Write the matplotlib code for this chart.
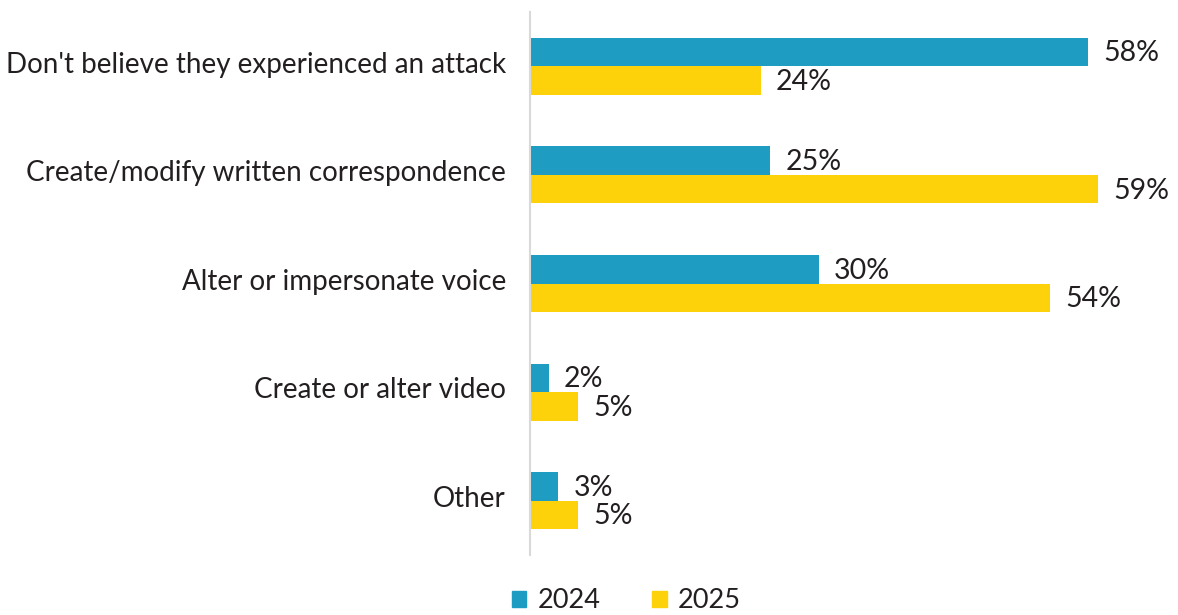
import matplotlib.pyplot as plt
import matplotlib.transforms as mtransforms
from matplotlib.patches import Patch

categories = ["Don't believe they experienced an attack",
              "Create/modify written correspondence",
              "Alter or impersonate voice",
              "Create or alter video",
              "Other"]
values_2024 = [58, 25, 30, 2, 3]
values_2025 = [24, 59, 54, 5, 5]
series_names = ["2024", "2025"]

blue = '#1e9cc1'
yellow = '#fdd20a'
text_col = '#231f20'

plt.rcParams['font.family'] = ['Lato', 'DejaVu Sans']

fig = plt.figure(figsize=(11.78, 6.15), dpi=100)
ax = fig.add_axes([529.5 / 1178, 1 - 555 / 615, 1 - 529.5 / 1178, (555 - 12) / 615])

h = 0.262
pos = list(range(len(categories)))
# two bars per category, 2024 above 2025
ax.barh([p - h / 2 for p in pos], values_2024, height=h, color=blue)
ax.barh([p + h / 2 for p in pos], values_2025, height=h, color=yellow)

for p, v in zip(pos, values_2024):
    ax.annotate(f'{v}%', (v, p - h / 2), xytext=(11, -1), textcoords='offset points',
                va='center', ha='left', fontsize=20.5, color=text_col)
for p, v in zip(pos, values_2025):
    ax.annotate(f'{v}%', (v, p + h / 2), xytext=(11, -1), textcoords='offset points',
                va='center', ha='left', fontsize=20.5, color=text_col)

ax.set_xlim(0, (1178 - 529.5) / 9.635)
ax.set_ylim(4.5, -0.5)
ax.set_yticks(pos)
ax.set_yticklabels(categories, fontsize=20, color=text_col)
ax.tick_params(axis='y', length=0, pad=17)
# nudge category labels up a little
shift = mtransforms.ScaledTranslation(0, 3 / 72, fig.dpi_scale_trans)
for lbl in ax.get_yticklabels():
    lbl.set_transform(lbl.get_transform() + shift)
ax.set_xticks([])
for s in ['top', 'right', 'bottom']:
    ax.spines[s].set_visible(False)
ax.spines['left'].set_color('#d9d9d9')
ax.spines['left'].set_linewidth(1.5)

handles = [Patch(color=blue), Patch(color=yellow)]
fig.legend(handles, series_names, loc='center', bbox_to_anchor=(626 / 1178, 1 - 601 / 615),
           ncol=2, frameon=False, fontsize=19.5, handlelength=0.55, handleheight=0.55,
           handletextpad=0.4, columnspacing=1.9, labelcolor=text_col)

fig.savefig('out.png', dpi=100)
